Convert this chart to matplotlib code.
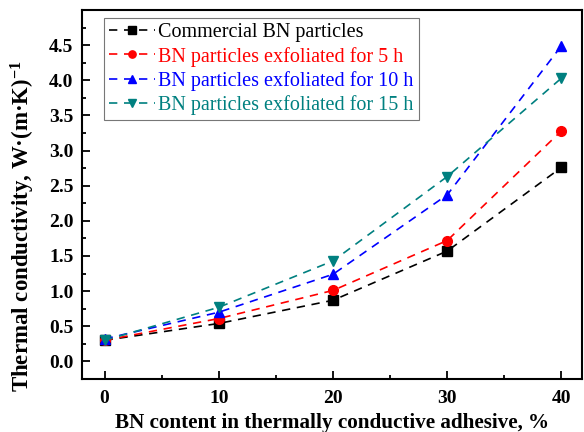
import matplotlib
matplotlib.use("Agg")
import matplotlib.pyplot as plt
from matplotlib.ticker import MultipleLocator

x = [0, 10, 20, 30, 40]
commercial = [0.30, 0.54, 0.87, 1.57, 2.76]
exf5 = [0.30, 0.61, 1.01, 1.72, 3.28]
exf10 = [0.32, 0.70, 1.24, 2.37, 4.49]
exf15 = [0.30, 0.77, 1.43, 2.63, 4.03]
labels = ["Commercial BN particles", "BN particles exfoliated for 5 h",
          "BN particles exfoliated for 10 h", "BN particles exfoliated for 15 h"]
colors = ["black", "#ff0000", "#0000ff", "#008080"]
markers = ["s", "o", "^", "v"]

plt.rcParams['font.family'] = ['Liberation Serif', 'DejaVu Serif']
plt.rcParams['mathtext.fontset'] = 'custom'
plt.rcParams['mathtext.rm'] = 'Liberation Serif:bold'
plt.rcParams['mathtext.bf'] = 'Liberation Serif:bold'
plt.rcParams['mathtext.default'] = 'rm'

fig = plt.figure(figsize=(5.84, 4.32), dpi=100)
ax = fig.add_axes([0.140, 0.1227, 0.8566, 0.8543])

for ys, lab, c, m in zip([commercial, exf5, exf10, exf15], labels, colors, markers):
    ax.plot(x, ys, linestyle=(0, (5, 4)), color=c, marker=m, markersize=7,
            linewidth=1.2, label=lab)

ax.set_xlim(-2, 41.8)
ax.set_ylim(-0.25, 5.0)
ax.xaxis.set_major_locator(MultipleLocator(10))
ax.xaxis.set_minor_locator(MultipleLocator(5))
ax.yaxis.set_minor_locator(MultipleLocator(0.25))
ax.set_yticks([0.0, 0.5, 1.0, 1.5, 2.0, 2.5, 3.0, 3.5, 4.0, 4.5])
ax.yaxis.set_major_formatter(plt.FuncFormatter(lambda v, p: f"{v:.1f}"))
ax.tick_params(which='both', direction='in', top=False, right=False, width=1.3)
ax.tick_params(which='major', length=6, labelsize=14)
ax.tick_params(which='minor', length=3)
ax.tick_params(axis='x', which='major', pad=8)
ax.tick_params(axis='y', which='major', pad=6)
for lab in ax.get_xticklabels() + ax.get_yticklabels():
    lab.set_fontweight('bold')
for s in ax.spines.values():
    s.set_linewidth(1.5)

ax.set_xlabel("BN content in thermally conductive adhesive, %", fontsize=15.2,
              fontweight='bold', labelpad=4)
ax.set_ylabel("Thermal conductivity, W\u00b7(m\u00b7K)$^{-1}$", fontsize=16.5,
              fontweight='bold')
ax.yaxis.set_label_coords(-0.089, 0.415)

leg = ax.legend(loc='upper left', bbox_to_anchor=(0.044, 0.978), fontsize=14.5, frameon=True,
                fancybox=False, edgecolor='#555555', handlelength=2.3, handletextpad=0.15,
                borderpad=0.25, labelspacing=0.22, borderaxespad=0, markerscale=0.75)
leg.get_frame().set_linewidth(0.8)
for t, c in zip(leg.get_texts(), colors):
    t.set_color(c)

fig.savefig("out.png", dpi=100)
